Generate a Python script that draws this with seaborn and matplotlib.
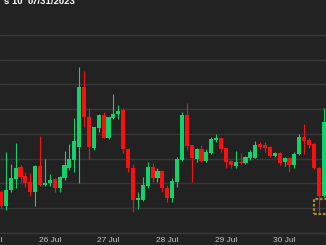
import numpy as np
import pandas as pd
import matplotlib
matplotlib.use("Agg")
import matplotlib.pyplot as plt
import matplotlib.dates as mdates
from matplotlib.patches import Rectangle
import seaborn as sns

# ---- data (2-hour candles) ----
opens = [29166, 29109, 29174, 29218, 29267, 29230, 29206, 29166, 29271, 29194,
         29202, 29218, 29182, 29222, 29263, 29295, 29347, 29590, 29469, 29343,
         29424, 29477, 29384, 29465, 29481, 29497, 29339, 29263, 29133, 29133,
         29190, 29267, 29222, 29250, 29182, 29141, 29206, 29295, 29477, 29356,
         29299, 29339, 29291, 29323, 29376, 29384, 29343, 29291, 29271, 29287,
         29283, 29303, 29303, 29360, 29356, 29347, 29311, 29323, 29287, 29303,
         29275, 29319, 29388, 29376, 29360, 29263, 29149]
highs = [29174, 29327, 29279, 29364, 29275, 29246, 29242, 29275, 29392, 29299,
         29238, 29222, 29230, 29331, 29360, 29465, 29671, 29654, 29505, 29428,
         29481, 29489, 29469, 29562, 29517, 29505, 29339, 29279, 29166, 29226,
         29287, 29283, 29263, 29255, 29194, 29222, 29307, 29489, 29525, 29356,
         29343, 29356, 29339, 29388, 29400, 29384, 29343, 29295, 29331, 29323,
         29311, 29335, 29372, 29368, 29368, 29351, 29327, 29327, 29307, 29307,
         29327, 29400, 29440, 29384, 29364, 29267, 29505]
lows = [29097, 29093, 29166, 29182, 29206, 29186, 29149, 29109, 29190, 29190,
        29190, 29166, 29166, 29214, 29255, 29246, 29202, 29428, 29299, 29335,
        29408, 29384, 29380, 29461, 29461, 29323, 29246, 29085, 29097, 29129,
        29182, 29206, 29206, 29166, 29125, 29125, 29186, 29291, 29335, 29206,
        29287, 29287, 29287, 29319, 29368, 29327, 29263, 29263, 29263, 29279,
        29279, 29295, 29303, 29339, 29327, 29307, 29307, 29275, 29271, 29246,
        29263, 29315, 29319, 29343, 29259, 29085, 29145]
closes = [29109, 29174, 29222, 29263, 29226, 29202, 29166, 29271, 29194, 29202,
          29214, 29182, 29226, 29275, 29299, 29372, 29590, 29469, 29347, 29428,
          29477, 29384, 29469, 29481, 29493, 29339, 29263, 29133, 29141, 29194,
          29267, 29222, 29250, 29182, 29141, 29210, 29299, 29477, 29351, 29303,
          29339, 29291, 29327, 29380, 29384, 29339, 29287, 29275, 29287, 29283,
          29307, 29327, 29356, 29347, 29343, 29311, 29323, 29283, 29303, 29275,
          29319, 29388, 29372, 29356, 29263, 29149, 29448]
times = pd.date_range("2023-07-25 04:00", periods=len(opens), freq="2h")
day_labels = ["25 Jul", "26 Jul", "27 Jul", "28 Jul", "29 Jul", "30 Jul"]
day_dates = pd.to_datetime(["2023-07-25", "2023-07-26", "2023-07-27",
                            "2023-07-28", "2023-07-29", "2023-07-30"])
header_left = "s 10"
header_right = "07/31/2023"

df = pd.DataFrame({"t": times, "open": opens, "high": highs,
                   "low": lows, "close": closes})

# ---- style ----
BG = "#222222"
GRID = "#383838"
UP = "#10d36c"
DOWN = "#fa1010"

sns.set_theme(style="dark", rc={"axes.facecolor": BG, "figure.facecolor": BG})
plt.rcParams["font.family"] = ["Liberation Sans", "DejaVu Sans"]

W, H = 326, 245
fig = plt.figure(figsize=(W / 100, H / 100), dpi=100)
ax = fig.add_axes([0, 12 / H, 1, 233 / H])
ax.set_facecolor(BG)

x = mdates.date2num(df["t"])
step = x[1] - x[0]
up = df["close"] >= df["open"]
colors = np.where(up, UP, DOWN)

# wicks
ax.vlines(x, df["low"], df["high"], colors=colors, linewidth=0.8, zorder=3)
# bodies
body_bottom = np.minimum(df["open"], df["close"])
body_h = np.maximum(np.abs(df["close"] - df["open"]), 4)
ax.bar(x, body_h, bottom=body_bottom, width=step * 0.84, color=colors,
       linewidth=0, zorder=4)

# scales
ax.set_xlim(x[0] - 0.2 * step, x[0] + 66.47 * step)
ax.set_ylim(29000, 29000 + 233 * 800 / 198)
ax.set_yticks(np.arange(29000, 29900, 100))
ax.yaxis.grid(True, color=GRID, linewidth=1.0)
ax.xaxis.grid(False)
ax.tick_params(left=False, bottom=False, labelleft=False, labelbottom=False)
for s in ["top", "left", "right"]:
    ax.spines[s].set_visible(False)
ax.spines["bottom"].set_color(GRID)
ax.spines["bottom"].set_linewidth(1.0)

# date labels
trans = ax.get_xaxis_transform()
for d, lab in zip(day_dates, day_labels):
    ax.text(mdates.date2num(d), -3.5 / 233, lab, transform=trans, ha="center",
            va="top", fontsize=6, color="#c4c4c4", clip_on=False)

# marker box near last price
box_y0 = 29077
box_y1 = 29137
xb = x[0] + 64.0 * step
ax.add_patch(Rectangle((xb, box_y0), 3.6 * step, box_y1 - box_y0, fill=False,
                       edgecolor="#b08a2a", linestyle=(0, (1.2, 0.8)),
                       linewidth=1.6, zorder=5))

# header
fig.text(22 / W, 1 - 4.5 / H, header_left, ha="right", va="baseline",
         fontsize=6.8, fontweight="bold", color="white")
fig.text(28 / W, 1 - 4.5 / H, header_right, ha="left", va="baseline",
         fontsize=6.8, fontweight="bold", color="white")

fig.savefig("out.png", dpi=100, facecolor=BG)
